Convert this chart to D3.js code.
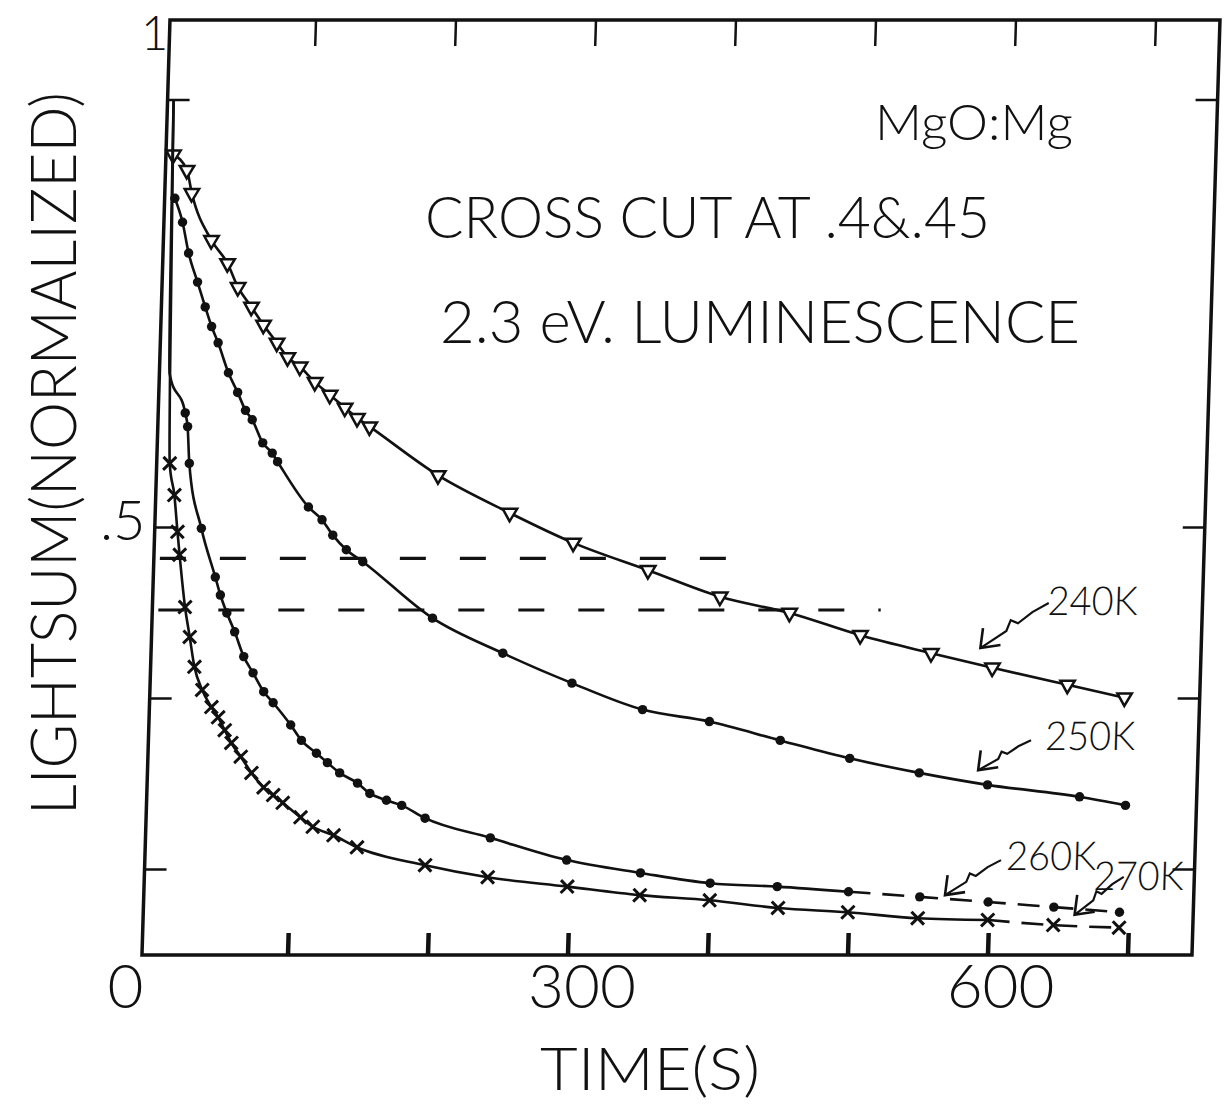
<!DOCTYPE html>
<html>
<head>
<meta charset="utf-8">
<title>MgO:Mg lightsum</title>
<script src="https://cdn.jsdelivr.net/npm/d3@7"></script>
<style>
body { margin: 0; background: #fff; }
text { font-family: "Lato", "DejaVu Sans", sans-serif; font-weight: 300; fill: #111; }
.frame { fill: none; stroke: #111; stroke-width: 3.5; }
.curve { fill: none; stroke: #111; stroke-width: 2.6; }
.cut { fill: none; stroke: #111; stroke-width: 3.2; stroke-dasharray: 26,34; }
</style>
</head>
<body>
<script>
// time (s) and normalized lightsum
var t240 = [1, 11, 15, 30, 42, 50, 60, 69, 79, 87, 96, 107, 118, 129, 138, 147, 197, 249, 295, 349, 401, 451, 502, 553, 597, 651, 692];
var v240 = [0.936, 0.918, 0.891, 0.836, 0.809, 0.781, 0.758, 0.737, 0.716, 0.699, 0.688, 0.670, 0.655, 0.640, 0.628, 0.618, 0.561, 0.517, 0.482, 0.450, 0.419, 0.400, 0.374, 0.353, 0.336, 0.316, 0.301];

var t250 = [3, 9, 14, 21, 27, 32, 37, 45, 52, 58, 63, 71, 78, 82, 105, 115, 123, 133, 145, 196, 247, 297, 348, 396, 447, 497, 547, 596, 662, 695];
var v250 = [0.885, 0.857, 0.821, 0.787, 0.758, 0.735, 0.716, 0.681, 0.658, 0.637, 0.626, 0.599, 0.587, 0.577, 0.524, 0.509, 0.491, 0.474, 0.460, 0.394, 0.353, 0.318, 0.287, 0.273, 0.251, 0.230, 0.213, 0.199, 0.185, 0.175];

var t260 = [0, 3, 15, 17, 19, 29, 40, 44, 49, 55, 62, 69, 77, 84, 97, 105, 116, 124, 133, 146, 155, 167, 178, 195, 242, 297, 350, 400, 448, 499, 550, 599, 646, 693];
var v260 = [1.0, 0.68, 0.634, 0.618, 0.575, 0.499, 0.442, 0.421, 0.400, 0.378, 0.349, 0.330, 0.308, 0.295, 0.269, 0.251, 0.236, 0.225, 0.213, 0.201, 0.189, 0.181, 0.175, 0.160, 0.137, 0.111, 0.096, 0.084, 0.080, 0.074, 0.068, 0.062, 0.056, 0.050];

var t270 = [0, 3.4, 5, 9, 12, 14, 19, 23, 27, 33, 40, 45, 50, 55, 62, 70, 79, 86, 93, 106, 115, 130, 147, 196, 241, 298, 350, 400, 449, 499, 549, 599, 646, 693];
var v270 = [1.0, 0.672, 0.575, 0.538, 0.495, 0.468, 0.407, 0.372, 0.337, 0.310, 0.290, 0.278, 0.263, 0.248, 0.232, 0.213, 0.196, 0.187, 0.178, 0.161, 0.150, 0.140, 0.126, 0.105, 0.091, 0.080, 0.070, 0.064, 0.055, 0.050, 0.043, 0.041, 0.035, 0.032];

var seriesNames = ["240K", "250K", "260K", "270K"];
// where each label's arrow points (t, v)
var labelTipT = [588, 589, 568, 661];
var labelTipV = [0.359, 0.216, 0.070, 0.047];

// cross cut levels and how far the dashes run
var cutLevels = [0.464, 0.4035];
var cutEnds = [407, 516];

var xTicks = [100, 200, 300, 400, 500, 600, 700];
var xTickLabels = ["0", "300", "600"];
var xTickLabelAt = [-16, 310, 609];
var yTicks = [0.1, 0.3, 0.5, 1];

var W = 1225, H = 1105;
var svg = d3.select("body").append("svg").attr("width", W).attr("height", H);

var x = d3.scaleLinear().domain([0, 700]).range([148, 1128]);
var y = d3.scaleLinear().domain([0, 1]).range([955, 100]);
var xMin = -4.3, xMax = 745.7, yMax = 1.0936;

// the original sheet leans a little: verticals are slanted, horizontals are not
var base = y(0);
var g = svg.append("g")
	.attr("transform", "translate(0," + base + ") skewX(-1.715) translate(0," + (-base) + ")");

g.append("rect").attr("class", "frame")
	.attr("x", x(xMin)).attr("y", y(yMax))
	.attr("width", x(xMax) - x(xMin)).attr("height", y(0) - y(yMax));

// bottom ticks (heavy, pointing up) and top ticks (thin, pointing down)
g.selectAll(".btick").data(xTicks).enter().append("line")
	.attr("x1", d => x(d)).attr("x2", d => x(d))
	.attr("y1", y(0)).attr("y2", y(0) - 22)
	.attr("stroke", "#111").attr("stroke-width", 4.5);
g.selectAll(".ttick").data(xTicks).enter().append("line")
	.attr("x1", d => x(d)).attr("x2", d => x(d))
	.attr("y1", y(yMax)).attr("y2", y(yMax) + 26)
	.attr("stroke", "#111").attr("stroke-width", 2.5);
g.selectAll(".ltick").data(yTicks).enter().append("line")
	.attr("x1", x(xMin)).attr("x2", x(xMin) + 22)
	.attr("y1", d => y(d)).attr("y2", d => y(d))
	.attr("stroke", "#111").attr("stroke-width", 2.5);
g.selectAll(".rtick").data(yTicks).enter().append("line")
	.attr("x1", x(xMax)).attr("x2", x(xMax) - 22)
	.attr("y1", d => y(d)).attr("y2", d => y(d))
	.attr("stroke", "#111").attr("stroke-width", 2.5);

// cross cut dashes
g.selectAll(".cut").data(cutLevels).enter().append("line").attr("class", "cut")
	.attr("x1", x(0)).attr("x2", (d, i) => x(cutEnds[i]))
	.attr("y1", d => y(d)).attr("y2", d => y(d));

var line = d3.line().x(d => x(d[0])).y(d => y(d[1])).curve(d3.curveMonotoneX);

var series = [
	{name: "240K", pts: d3.zip(t240, v240), sym: "tri", from: 0, dashFrom: 999},
	{name: "250K", pts: d3.zip(t250, v250), sym: "dot", from: 0, dashFrom: 999},
	{name: "260K", pts: d3.zip(t260, v260), sym: "dot", from: 2, dashFrom: 540},
	{name: "270K", pts: d3.zip(t270, v270), sym: "x", from: 2, dashFrom: 600}
];

series.forEach(function(s) {
	var solid = s.pts.filter(d => d[0] <= s.dashFrom);
	g.append("path").attr("class", "curve").attr("d", line(solid));
	if (s.dashFrom < 999) {
		var tail = s.pts.filter(d => d[0] >= solid[solid.length - 1][0]);
		g.append("path").attr("class", "curve").attr("d", line(tail))
			.attr("stroke-dasharray", "22,12");
	}
	var m = g.selectAll(null).data(s.pts.slice(s.from)).enter().append("path")
		.attr("transform", d => "translate(" + x(d[0]) + "," + y(d[1]) + ")");
	if (s.sym == "tri") {
		m.attr("d", d3.symbol(d3.symbolTriangle, 90)()).attr("transform", function(d) {
			return "translate(" + x(d[0]) + "," + y(d[1]) + ") rotate(180)";
		}).attr("fill", "#fff").attr("stroke", "#111").attr("stroke-width", 2.5);
	} else if (s.sym == "dot") {
		m.attr("d", d3.symbol(d3.symbolCircle, 70)()).attr("fill", "#111");
	} else {
		m.attr("d", d3.symbol(d3.symbolTimes, 110)()).attr("fill", "none")
			.attr("stroke", "#111").attr("stroke-width", 3);
	}
});

// squiggly arrows to the series labels
var arrowShape = [[1, 1], [0.76, 0.8], [0.55, 0.55], [0.44, 0.62], [0.38, 0.38], [0, 0]];
var arrowTail = [[67, -45], [52, -30], [55, -35], [48, -38]];
var labelDx = [66, 66, 60, 18];
var labelDy = [-33, -20, -25, -25];
var arrowLine = d3.line().curve(d3.curveLinear);
seriesNames.forEach(function(name, i) {
	var tx = x(labelTipT[i]), ty = y(labelTipV[i]);
	var a = arrowTail[i];
	var pts = arrowShape.map(p => [tx + p[0] * a[0], ty + p[1] * a[1]]);
	g.append("path").attr("d", arrowLine(pts)).attr("fill", "none")
		.attr("stroke", "#111").attr("stroke-width", 2.2);
	g.append("path").attr("d", arrowLine([[tx + 2, ty - 20], [tx, ty], [tx + 20, ty - 3]]))
		.attr("fill", "none").attr("stroke", "#111").attr("stroke-width", 2.6);
	g.append("text").attr("x", tx + labelDx[i]).attr("y", ty + labelDy[i])
		.attr("font-size", 40).attr("textLength", 90).attr("lengthAdjust", "spacingAndGlyphs")
		.text(name);
});

// axis numbers
svg.selectAll(".xl").data(xTickLabels).enter().append("text")
	.attr("x", (d, i) => x(xTickLabelAt[i])).attr("y", 1008)
	.attr("text-anchor", "middle").attr("font-size", 62)
	.text(d => d);
svg.append("text").attr("x", 141).attr("y", 50).attr("font-size", 47).text("1");
svg.append("text").attr("x", 100).attr("y", 540).attr("font-size", 56).text(".5");

// axis titles
svg.append("text").attr("x", 540).attr("y", 1090).attr("font-size", 60)
	.attr("textLength", 220).attr("lengthAdjust", "spacingAndGlyphs").text("TIME(S)");
svg.append("text").attr("transform", "translate(76,815) rotate(-90)")
	.attr("font-size", 64).attr("textLength", 723).attr("lengthAdjust", "spacingAndGlyphs")
	.text("LIGHTSUM(NORMALIZED)");

// notes
svg.append("text").attr("x", 875).attr("y", 140).attr("font-size", 50)
	.attr("textLength", 198).attr("lengthAdjust", "spacingAndGlyphs").text("MgO:Mg");
svg.append("text").attr("x", 425).attr("y", 238).attr("font-size", 58)
	.attr("textLength", 565).attr("lengthAdjust", "spacingAndGlyphs").text("CROSS CUT AT .4&.45");
svg.append("text").attr("x", 440).attr("y", 343).attr("font-size", 60)
	.attr("textLength", 640).attr("lengthAdjust", "spacingAndGlyphs").text("2.3 eV. LUMINESCENCE");
</script>
</body>
</html>
